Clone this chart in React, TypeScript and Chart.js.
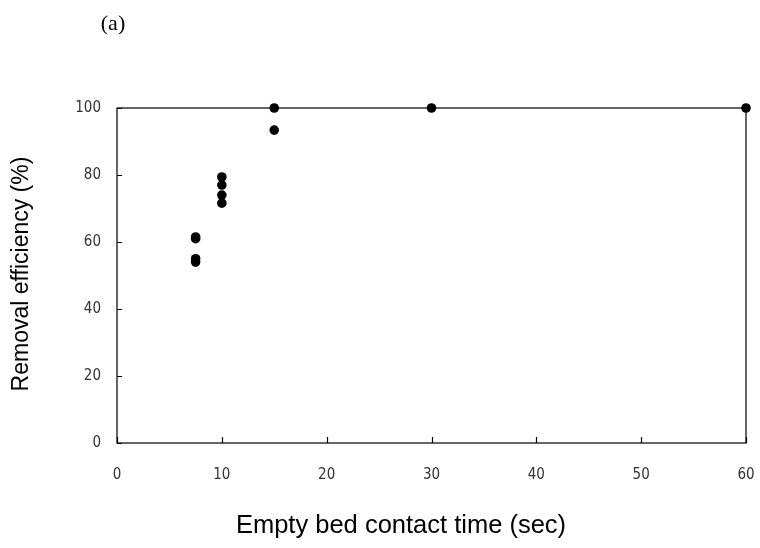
import React, { useEffect, useRef } from "react";
import { Chart, registerables } from "chart.js";

Chart.register(...registerables);

const ebctValues: number[] = [7.5, 7.5, 7.5, 7.5, 10, 10, 10, 10, 15, 15, 30, 60];
const removalValues: number[] = [61.5, 61, 55, 54, 79.4, 77, 74, 71.6, 100, 93.4, 100, 100];
const xTickValues: number[] = [0, 10, 20, 30, 40, 50, 60];
const yTickValues: number[] = [0, 20, 40, 60, 80, 100];
const xTitle = "Empty bed contact time (sec)";
const yTitle = "Removal efficiency (%)";
const panelLabel = "(a)";

const tickFont = '"Liberation Sans Narrow", "DejaVu Sans Condensed", "Liberation Sans", sans-serif';

const framePlugin = {
  id: "frame",
  afterDraw(chart: any) {
    const { ctx, chartArea } = chart;
    const { left, right, top, bottom } = chartArea;
    const xs = chart.scales.x;
    const ys = chart.scales.y;
    ctx.save();
    ctx.strokeStyle = "#000";
    ctx.lineWidth = 1.2;
    ctx.strokeRect(left, top, right - left, bottom - top);
    ctx.beginPath();
    for (const v of xTickValues) {
      const px = Math.round(xs.getPixelForValue(v)) + 0.5;
      ctx.moveTo(px, bottom);
      ctx.lineTo(px, bottom - 6);
    }
    for (const v of yTickValues) {
      const py = Math.round(ys.getPixelForValue(v)) + 0.5;
      ctx.moveTo(left, py);
      ctx.lineTo(left + 5, py);
    }
    ctx.stroke();
    ctx.fillStyle = "#000";
    ctx.font = '22px "Liberation Serif", serif';
    ctx.textAlign = "center";
    ctx.textBaseline = "middle";
    ctx.fillText(panelLabel, 113, 24);
    ctx.font = '25.5px "Liberation Sans", Arial, sans-serif';
    ctx.fillText(xTitle, 401, 526);
    ctx.font = '23px "Liberation Sans", Arial, sans-serif';
    ctx.translate(22, 274);
    ctx.rotate(-Math.PI / 2);
    ctx.fillText(yTitle, 0, 0);
    ctx.restore();
  },
};

export default function App() {
  const ref = useRef<HTMLCanvasElement | null>(null);
  useEffect(() => {
    if (!ref.current) return;
    const chart = new Chart(ref.current, {
      type: "scatter",
      data: {
        datasets: [
          {
            data: ebctValues.map((x, i) => ({ x, y: removalValues[i] })),
            backgroundColor: "#000",
            borderColor: "#000",
            pointRadius: 4.8,
            borderWidth: 0,
            clip: false,
          } as any,
        ],
      },
      options: {
        animation: false,
        responsive: false,
        maintainAspectRatio: false,
        layout: { padding: { left: 0, right: 14, top: 108, bottom: 0 } },
        plugins: { legend: { display: false }, tooltip: { enabled: false } },
        scales: {
          x: {
            type: "linear",
            min: 0,
            max: 60,
            afterBuildTicks: (s: any) => {
              s.ticks = xTickValues.map((v) => ({ value: v }));
            },
            afterFit: (s: any) => {
              s.height = 105;
              s.paddingLeft = 0;
              s.paddingRight = 0;
            },
            grid: { display: false, drawTicks: false },
            border: { display: false },
            ticks: {
              padding: 23,
              color: "#333",
              font: { family: tickFont, size: 15 },
              maxRotation: 0,
            },
          },
          y: {
            type: "linear",
            min: 0,
            max: 100,
            afterBuildTicks: (s: any) => {
              s.ticks = yTickValues.map((v) => ({ value: v }));
            },
            afterFit: (s: any) => {
              s.width = 117;
              s.paddingTop = 0;
              s.paddingBottom = 0;
            },
            grid: { display: false, drawTicks: false },
            border: { display: false },
            ticks: {
              padding: 16,
              color: "#333",
              font: { family: tickFont, size: 15 },
            },
          },
        },
      },
      plugins: [framePlugin],
    });
    return () => chart.destroy();
  }, []);
  return (
    <div style={{ position: "absolute", left: 0, top: 0, width: 760, height: 548, background: "#fff" }}>
      <canvas ref={ref} width={760} height={548} style={{ width: 760, height: 548, display: "block" }} />
    </div>
  );
}
